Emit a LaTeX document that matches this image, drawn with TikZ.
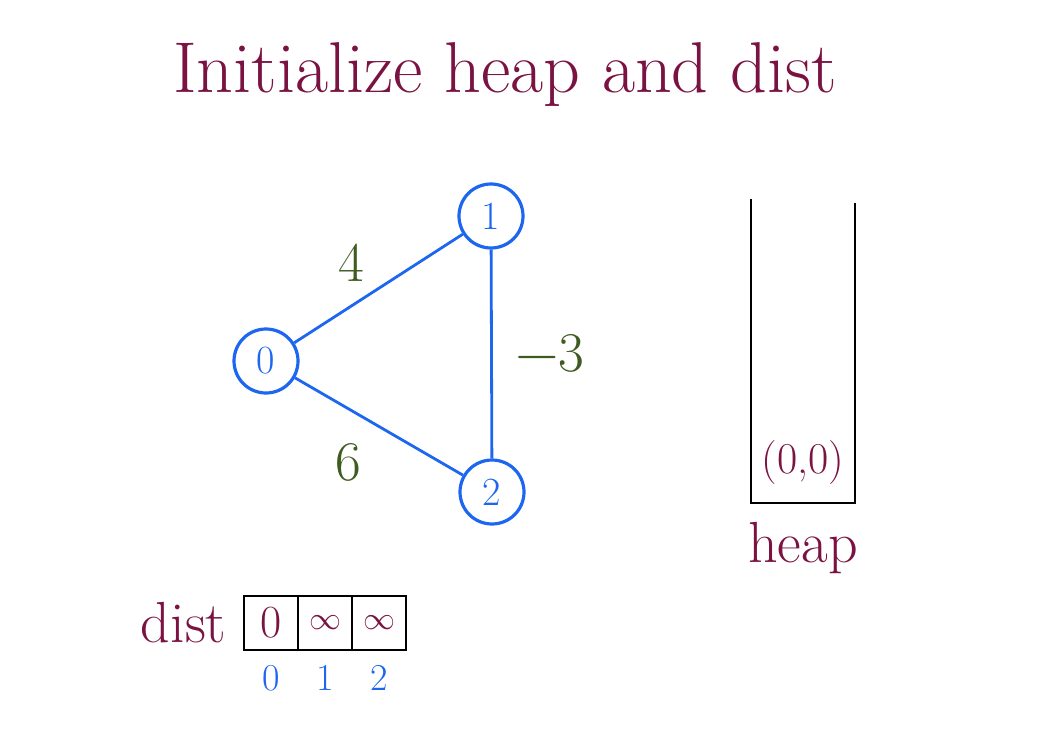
\documentclass[tikz,border=0pt]{standalone}
\usepackage{fontspec}
\usepackage{unicode-math}
\usepackage{xcolor}
\definecolor{ink}{RGB}{122,18,66}
\definecolor{graphblue}{RGB}{28,102,240}
\definecolor{wtgreen}{RGB}{62,92,32}
\newcommand{\wgt}[1]{\textcolor{wtgreen}{#1}}
\newcommand{\idx}[1]{\textcolor{graphblue}{#1}}
\usetikzlibrary{positioning}

\begin{document}
\begin{tikzpicture}[x=1pt, y=-1pt,
    vertex/.style={draw=graphblue, circle, line width=3.2pt, minimum size=64pt,
      inner sep=0pt, text=graphblue, font=\fontsize{40}{44}\selectfont},
    edge/.style={graphblue, line width=2.8pt},
    weight/.style={font=\fontsize{56}{60}\selectfont},
    cell/.style={draw, line width=2.8pt, minimum size=54pt, inner sep=0pt,
      outer sep=0pt, text=ink, font=\fontsize{46}{50}\selectfont},
    inf/.style={cell, font=\fontsize{32}{36}\selectfont},
    lbl/.style={text=ink, font=\fontsize{58}{64}\selectfont}] % Init

  \useasboundingbox (0,0) rectangle (1048,733);

  \node [lbl, font=\fontsize{72}{80}\selectfont] (title) at (505,75) {Initialize heap and dist};

  % graph
  \node [vertex] (n0) at (266,361) {0};
  \node [vertex] (n1) at (491,216) {1};
  \node [vertex] (n2) at (492,492) {2};

  \draw [edge] (n0) -- (n1);
  \draw [edge] (n1) -- (n2);
  \draw [edge] (n0) -- (n2);

  \node [weight] (w01) at (351,263) {\wgt{4}};
  \node [weight] (w12) at (550,353) {\wgt{$-$3}};
  \node [weight] (w02) at (348,462) {\wgt{6}};

  % heap
  \coordinate (hlt) at (751,199);
  \coordinate (hlb) at (751,503);
  \coordinate (hrb) at (855,503);
  \coordinate (hrt) at (855,203);
  \draw [line width=2.8pt] (hlt) -- (hlb) -- (hrb) -- (hrt);
  \node [lbl, font=\fontsize{44}{50}\selectfont] (top) at (803,463) {(0,0)};
  \node [lbl] (heap) at (803,548) {heap};

  % dist
  \node [cell] (c0) at (271,623) {0};
  \node [inf, right=0pt of c0] (c1) {$\infty$};
  \node [inf, right=0pt of c1] (c2) {$\infty$};
  \node [lbl, left=14pt of c0] (dist) {dist};
  \foreach \i in {0,1,2}
    \node [below=12pt of c\i, font=\fontsize{38}{42}\selectfont] (i\i) {\idx{\i}};

\end{tikzpicture}
\end{document}
